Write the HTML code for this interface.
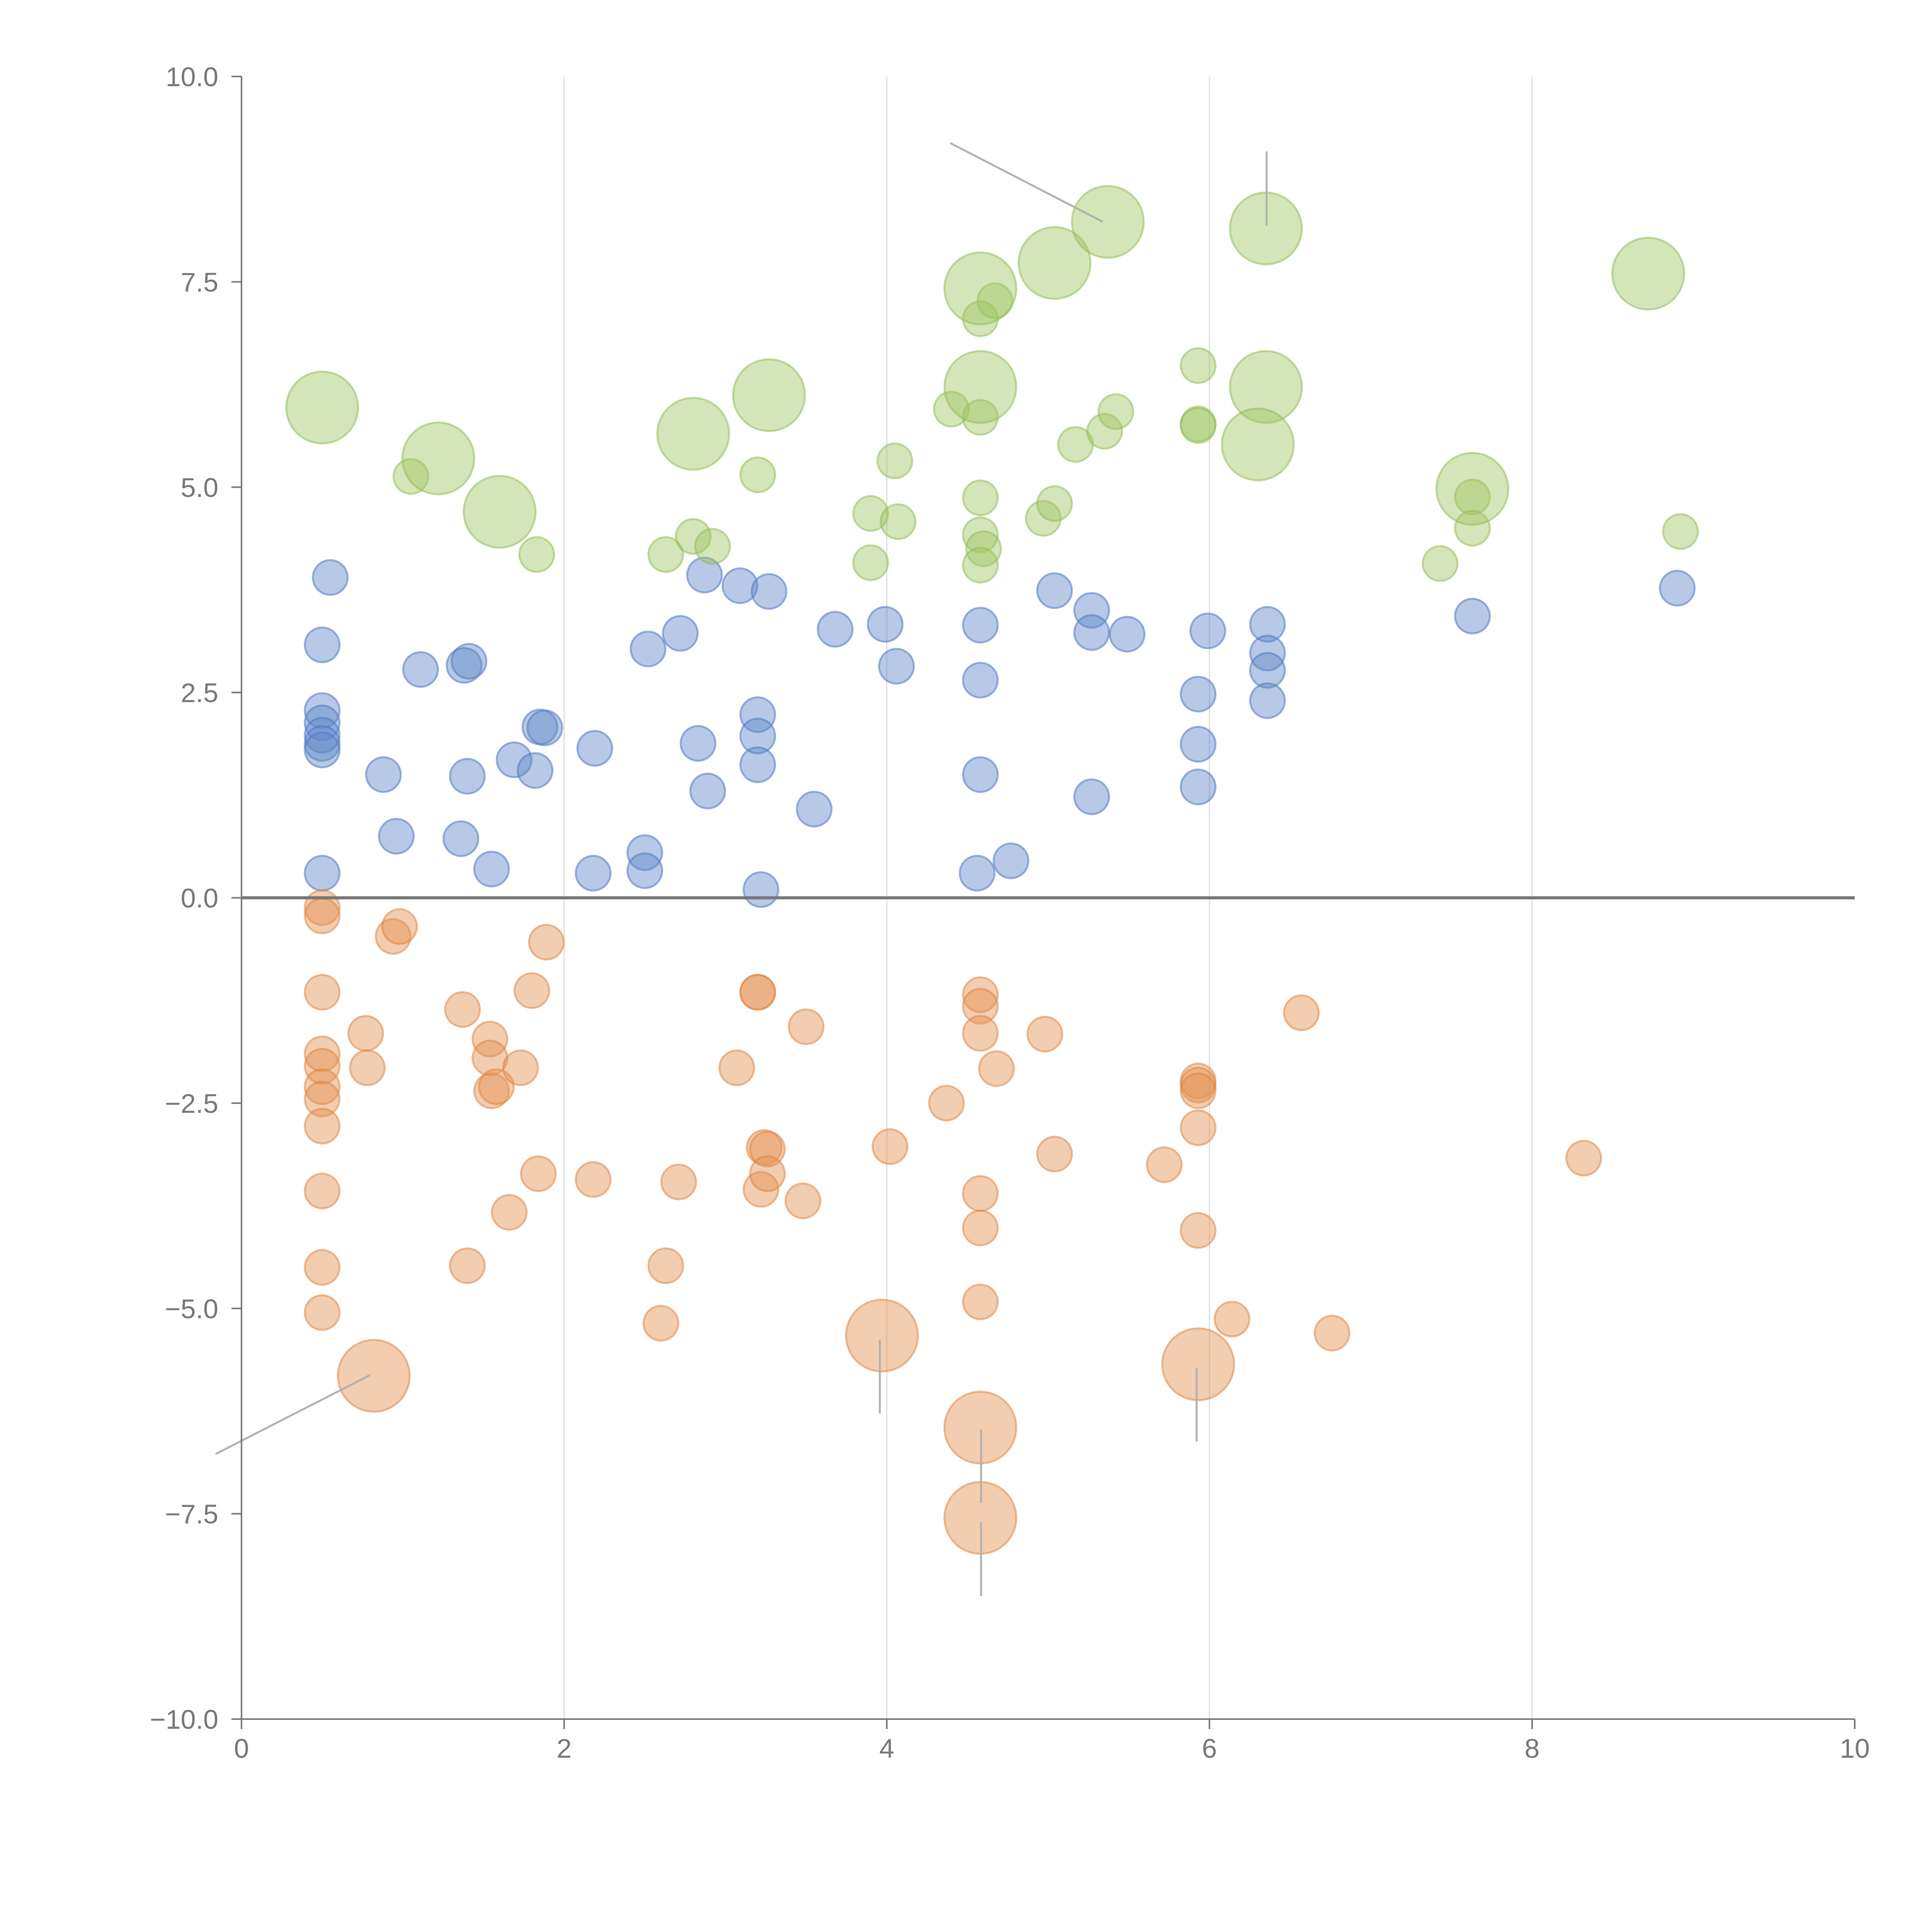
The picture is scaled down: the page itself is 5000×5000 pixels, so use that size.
<!DOCTYPE html>
<html><head><meta charset="utf-8"><style>html,body{margin:0;padding:0;background:#fff;}svg{display:block;}</style></head>
<body>
<svg id="chart" width="5000" height="5000" viewBox="0 0 5000 5000" xmlns="http://www.w3.org/2000/svg"></svg>
<script>
const greenBigX=[0.5,1.22,1.6,2.8,3.27,4.58,4.58,5.04,5.37,6.35,6.35,6.3,7.63,8.72];
const greenBigY=[5.97,5.35,4.7,5.65,6.12,7.42,6.22,7.73,8.23,8.15,6.22,5.52,4.98,7.6];
const greenX=[1.05,1.83,2.63,2.8,2.92,3.2,3.9,3.9,4.05,4.07,4.4,4.58,4.67,4.58,4.58,4.58,4.6,4.58,4.97,5.04,5.17,5.35,5.42,5.93,5.93,5.93,7.43,7.63,7.63,8.92];
const greenY=[5.13,4.18,4.18,4.4,4.28,5.15,4.68,4.08,5.32,4.58,5.95,7.05,7.27,5.85,4.87,4.42,4.25,4.05,4.62,4.8,5.52,5.68,5.92,6.48,5.77,5.75,4.07,4.88,4.5,4.46];
const blueX=[0.55,0.5,0.5,0.5,0.5,0.5,0.5,0.5,0.88,0.96,1.11,1.38,1.41,1.4,1.36,1.55,1.69,1.82,1.85,1.88,2.19,2.18,2.5,2.5,2.52,2.72,2.83,2.87,2.89,3.09,3.2,3.2,3.2,3.22,3.27,3.55,3.68,3.99,4.06,4.58,4.58,4.58,4.56,4.77,5.04,5.27,5.27,5.27,5.49,5.93,5.93,5.93,5.99,6.36,6.36,6.36,6.36,7.63,8.9];
const blueY=[3.9,3.08,2.28,2.13,1.98,1.88,1.8,0.3,1.5,0.75,2.78,2.83,2.88,1.48,0.72,0.35,1.68,1.55,2.08,2.07,1.82,0.3,0.55,0.33,3.03,3.22,1.88,3.93,1.3,3.8,2.23,1.97,1.62,0.1,3.73,1.08,3.27,3.33,2.82,3.32,2.65,1.5,0.3,0.45,3.74,3.5,3.23,1.23,3.21,2.48,1.87,1.35,3.25,3.33,2.98,2.77,2.4,3.43,3.77];
const orangeX=[0.5,0.5,0.5,0.5,0.5,0.5,0.5,0.5,0.5,0.5,0.5,0.77,0.78,0.94,0.98,1.37,1.4,1.54,1.54,1.55,1.58,1.66,1.73,1.8,1.84,1.89,2.18,2.6,2.63,2.71,3.07,3.2,3.2,3.22,3.24,3.26,3.26,3.48,3.5,4.02,4.37,4.58,4.58,4.58,4.58,4.58,4.58,4.68,4.98,5.04,5.72,5.93,5.93,5.93,5.93,5.93,6.14,6.57,6.76,8.32];
const orangeY=[-0.12,-0.22,-1.15,-1.9,-2.05,-2.3,-2.45,-2.78,-3.57,-4.5,-5.05,-1.65,-2.07,-0.47,-0.35,-1.36,-4.48,-1.72,-1.95,-2.35,-2.3,-3.83,-2.07,-1.13,-3.36,-0.54,-3.43,-5.18,-4.48,-3.46,-2.07,-1.15,-1.15,-3.55,-3.04,-3.06,-3.36,-3.69,-1.57,-3.03,-2.5,-1.18,-1.32,-1.65,-3.6,-4.02,-4.92,-2.08,-1.66,-3.12,-3.25,-2.23,-2.28,-2.35,-2.8,-4.05,-5.13,-1.4,-5.3,-3.17];
const orangeBigX=[0.82,3.97,4.58,4.58,5.93];
const orangeBigY=[-5.82,-5.33,-6.45,-7.55,-5.68];
const xTicks=[0,2,4,6,8,10];
const xTickLabels=["0","2","4","6","8","10"];
const yTicks=[10,7.5,5,2.5,0,-2.5,-5,-7.5,-10];
const yTickLabels=["10.0","7.5","5.0","2.5","0.0","\u22122.5","\u22125.0","\u22127.5","\u221210.0"];

const NS="http://www.w3.org/2000/svg";
const svg=document.getElementById('chart');
const X0=625,X1=4800,Y0=198,Y1=4449;
const sx=v=>X0+(v-0)/10*(X1-X0);
const sy=v=>Y0+(10-v)/20*(Y1-Y0);
function mk(tag,attrs,parent){const e=document.createElementNS(NS,tag);for(const k in attrs)e.setAttribute(k,attrs[k]);(parent||svg).appendChild(e);return e;}

const grid=mk('g',{});


[2,4,6,8].forEach(v=>{const l=mk('line',{x1:sx(v),x2:sx(v),y1:Y0,y2:Y1,stroke:'#dcdcdc','stroke-width':3},grid);

});

function series(xs,ys,r,fill,stroke,name){
  const g=mk('g',{});
  
  
  xs.forEach((x,i)=>{const c=mk('circle',{cx:sx(x),cy:sy(ys[i]),r:r,fill:fill,stroke:stroke,'stroke-width':5},g);
    
    });
}
const gF='rgba(160,198,100,0.45)',gS='rgba(140,185,80,0.5)';
const bF='rgba(95,135,200,0.45)',bS='rgba(80,120,195,0.55)';
const oF='rgba(228,145,80,0.45)',oS='rgba(220,130,60,0.5)';
series(blueX,blueY,45,bF,bS,'blue-series');
series(orangeX,orangeY,45,oF,oS,'orange-series');
series(orangeBigX,orangeBigY,93,oF,oS,'orange-large-series');
series(greenX,greenY,45,gF,gS,'green-series');
series(greenBigX,greenBigY,93,gF,gS,'green-large-series');

const leaders=[[2459,370,2854,574],[3278,392,3278,584],[558,3763,957,3559],[2277,3467,2277,3658],[2539,3700,2539,3890],[2539,3939,2539,4130],[3097,3540,3097,3731]];
const lg=mk('g',{});


leaders.forEach(p=>{const l=mk('line',{x1:p[0],y1:p[1],x2:p[2],y2:p[3],stroke:'#b0b0b0','stroke-width':5},lg);

});

const z=mk('line',{x1:X0,x2:X1,y1:sy(0),y2:sy(0),stroke:'#777','stroke-width':8});



const ax=mk('g',{});


mk('line',{x1:X0,x2:X0,y1:Y0,y2:Y1,stroke:'#777','stroke-width':4},ax);
mk('line',{x1:X0,x2:X1,y1:Y1,y2:Y1,stroke:'#777','stroke-width':4},ax);
xTicks.forEach((v,i)=>{
  mk('line',{x1:sx(v),x2:sx(v),y1:Y1,y2:Y1+26,stroke:'#777','stroke-width':4},ax);
  const t=mk('text',{x:sx(v),y:Y1+100,'text-anchor':'middle','font-family':'Liberation Sans, sans-serif','font-size':70,fill:'#777'},ax);
  t.textContent=xTickLabels[i];
  
  
});
yTicks.forEach((v,i)=>{
  mk('line',{x1:X0-26,x2:X0,y1:sy(v),y2:sy(v),stroke:'#777','stroke-width':4},ax);
  const t=mk('text',{x:X0-60,y:sy(v)+25,'text-anchor':'end','font-family':'Liberation Sans, sans-serif','font-size':70,fill:'#777'},ax);
  t.textContent=yTickLabels[i];
  
  
});
</script>
</body></html>
